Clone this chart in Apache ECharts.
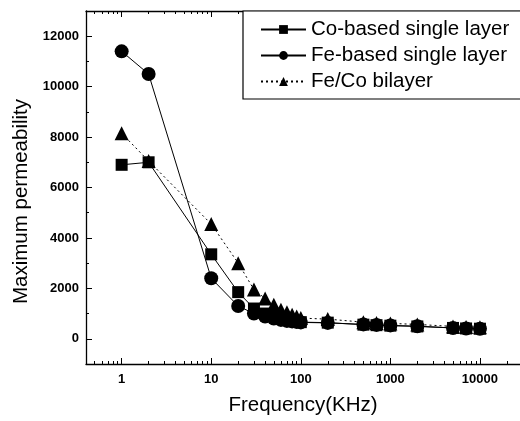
<!DOCTYPE html>
<html>
<head>
<meta charset="utf-8">
<script src="https://cdn.jsdelivr.net/npm/echarts@6/dist/echarts.min.js"></script>
<style>html,body{margin:0;padding:0;background:#fff}#c{width:520px;height:421px}</style>
</head>
<body>
<div id="c"></div>
<script>
// Frequency (KHz)
const freq = [1, 2, 10, 20, 30, 40, 50, 60, 70, 80, 90, 100, 200, 500, 700, 1000, 2000, 5000, 7000, 10000];
const coSingle = [6900, 7000, 3350, 1850, 1200, 1000, 900, 820, 760, 720, 690, 660, 640, 560, 540, 520, 490, 430, 410, 400];
const feSingle = [11400, 10500, 2400, 1300, 1000, 880, 800, 750, 710, 690, 670, 650, 630, 570, 550, 530, 500, 430, 410, 400];
const feCoBilayer = [8150, 7050, 4550, 3000, 1950, 1600, 1350, 1150, 1050, 950, 880, 820, 780, 660, 630, 610, 570, 490, 470, 460];
const seriesNames = ['Co-based single layer', 'Fe-based single layer', 'Fe/Co bilayer'];
const xMajorTicks = [1, 10, 100, 1000, 10000];
const xMinorTicks = [0.5, 0.6, 0.7, 0.8, 0.9, 2, 3, 4, 5, 6, 7, 8, 9, 20, 30, 40, 50, 60, 70, 80, 90,
  200, 300, 400, 500, 600, 700, 800, 900, 2000, 3000, 4000, 5000, 6000, 7000, 8000, 9000, 20000];
const yMajorTicks = [0, 2000, 4000, 6000, 8000, 10000, 12000];
const yMinorTicks = [1000, 3000, 5000, 7000, 9000, 11000];

const FONT = 'Liberation Sans, Arial, Helvetica, sans-serif';
const black = '#000';
const xMin = 0.4, xMax = 28000, yMin = -1000, yMax = 13000;
const plain = v => String(Math.round(v));

function xAx(pos, ticks, len, showLine, showLabel, extra) {
  return Object.assign({
    type: 'log', logBase: 10, min: xMin, max: xMax, position: pos,
    axisLine: { show: showLine, onZero: false, lineStyle: { color: black, width: 1.3 } },
    axisTick: { show: true, inside: true, length: len, customValues: ticks, lineStyle: { color: black, width: 1 } },
    axisLabel: showLabel ? { show: true, customValues: xMajorTicks, formatter: plain, color: black, fontSize: 13, fontWeight: 'bold', fontFamily: FONT, margin: 9 } : { show: false },
    splitLine: { show: false }, minorTick: { show: false }
  }, extra || {});
}
function yAx(ticks, len, showLine, showLabel, extra) {
  return Object.assign({
    type: 'value', min: yMin, max: yMax, interval: 1000, position: 'left',
    axisLine: { show: showLine, onZero: false, lineStyle: { color: black, width: 1.3 } },
    axisTick: { show: true, inside: true, length: len, customValues: ticks, lineStyle: { color: black, width: 1 } },
    axisLabel: showLabel ? { show: true, customValues: yMajorTicks, formatter: plain, color: black, fontSize: 13, fontWeight: 'bold', fontFamily: FONT, margin: 7 } : { show: false },
    splitLine: { show: false }
  }, extra || {});
}

const chart = echarts.init(document.getElementById('c'), null, { renderer: 'canvas' });
chart.setOption({
  animation: false,
  backgroundColor: '#fff',
  grid: { left: 86, right: 0, top: 11, bottom: 56, containLabel: false },
  legend: {
    orient: 'vertical', left: 243, top: 11,
    padding: [8, 30, 7, 17], itemGap: 5, itemWidth: 45, itemHeight: 11,
    borderColor: black, borderWidth: 1.2, backgroundColor: '#fff',
    textStyle: { color: black, fontSize: 20.5, fontFamily: FONT },
    data: seriesNames
  },
  xAxis: [
    xAx('bottom', xMajorTicks, 6, true, true, {
      name: 'Frequency(KHz)', nameLocation: 'middle', nameGap: 31,
      nameTextStyle: { color: black, fontSize: 20.5, fontFamily: FONT }
    }),
    xAx('bottom', xMinorTicks, 3, false, false),
    xAx('top', xMajorTicks, 6, true, false),
    xAx('top', xMinorTicks, 3, false, false)
  ],
  yAxis: [
    yAx(yMajorTicks, 6, true, true, {
      name: 'Maximum permeability', nameLocation: 'middle', nameGap: 42,
      nameTextStyle: { color: black, fontSize: 20.5, fontFamily: FONT, padding: [0, 28, 0, 0] }
    }),
    yAx(yMinorTicks, 3, false, false)
  ],
  series: [
    {
      name: seriesNames[0], type: 'line', xAxisIndex: 0, yAxisIndex: 0,
      data: freq.map((f, i) => [f, coSingle[i]]),
      symbol: 'rect', symbolSize: 12,
      lineStyle: { color: black, width: 1 }, itemStyle: { color: black }
    },
    {
      name: seriesNames[1], type: 'line', xAxisIndex: 0, yAxisIndex: 0,
      data: freq.map((f, i) => [f, feSingle[i]]),
      symbol: 'circle', symbolSize: 14,
      lineStyle: { color: black, width: 1 }, itemStyle: { color: black }
    },
    {
      name: seriesNames[2], type: 'line', xAxisIndex: 0, yAxisIndex: 0,
      data: freq.map((f, i) => [f, feCoBilayer[i]]),
      symbol: 'triangle', symbolSize: 14,
      lineStyle: { color: black, width: 1, type: [2, 3] }, itemStyle: { color: black }
    }
  ]
});
</script>
</body>
</html>
